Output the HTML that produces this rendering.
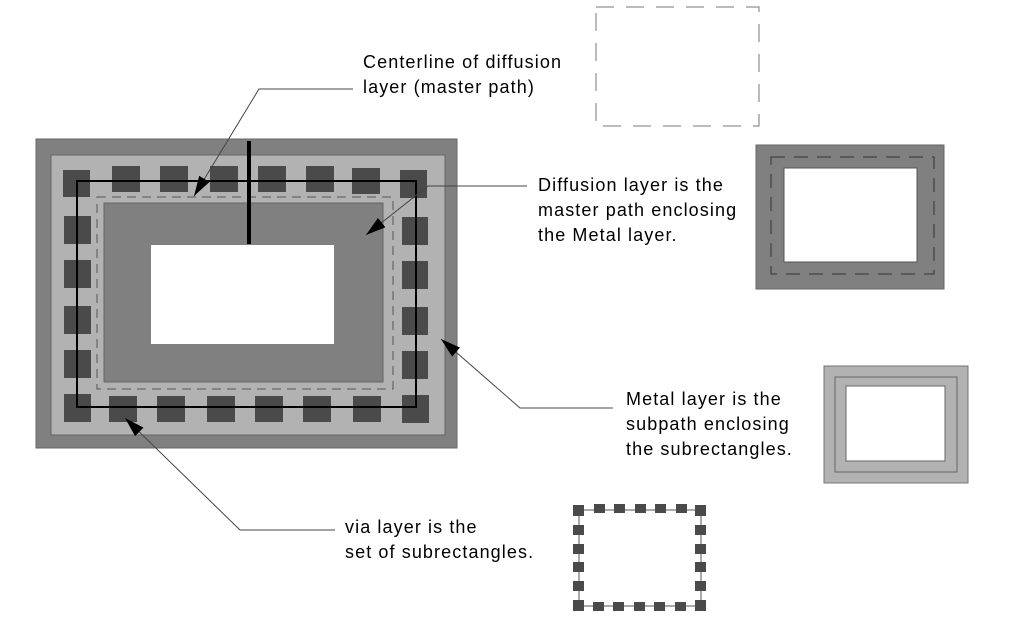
<!DOCTYPE html>
<html><head><meta charset="utf-8"><style>
html,body{margin:0;padding:0;background:#fff;width:1013px;height:640px;overflow:hidden}
text{font-family:"Liberation Sans",sans-serif;font-size:18px;letter-spacing:1.1px;fill:#000}
</style></head><body>
<svg width="1013" height="640" viewBox="0 0 1013 640" xmlns="http://www.w3.org/2000/svg">
<defs>
<marker id="ah" markerWidth="22" markerHeight="14" refX="20" refY="6" orient="auto" markerUnits="userSpaceOnUse"><path d="M0,0 L20,6 L0,12 Z" fill="#000"/></marker>
</defs>
<rect x="36" y="139" width="421" height="309" fill="#808080" stroke="#666" stroke-width="1"/>
<rect x="51" y="155" width="394" height="280" fill="#b2b2b2" stroke="#666" stroke-width="1"/>
<rect x="97" y="197" width="296" height="192" fill="none" stroke="#555" stroke-width="1" stroke-dasharray="9,6"/>
<rect x="104" y="203" width="279" height="179" fill="#808080" stroke="#666" stroke-width="1"/>
<rect x="151" y="245" width="183" height="99" fill="#fff"/>
<g fill="#4a4a4a">
<rect x="63" y="170" width="27" height="27"/><rect x="112" y="166" width="28" height="26"/><rect x="160" y="166" width="28" height="26"/><rect x="210" y="166" width="28" height="26"/><rect x="258" y="166" width="28" height="26"/><rect x="306" y="166" width="28" height="26"/><rect x="352" y="168" width="28" height="26"/><rect x="400" y="170" width="27" height="28"/>
<rect x="64" y="216" width="27" height="28"/><rect x="64" y="260" width="27" height="28"/><rect x="64" y="306" width="27" height="28"/><rect x="64" y="350" width="27" height="28"/>
<rect x="402" y="217" width="26" height="28"/><rect x="402" y="261" width="26" height="28"/><rect x="402" y="307" width="26" height="28"/><rect x="402" y="351" width="26" height="28"/>
<rect x="64" y="394" width="27" height="28"/><rect x="109" y="396" width="28" height="26"/><rect x="157" y="396" width="28" height="26"/><rect x="207" y="396" width="28" height="26"/><rect x="255" y="396" width="28" height="26"/><rect x="303" y="396" width="28" height="26"/><rect x="353" y="396" width="28" height="26"/><rect x="402" y="395" width="27" height="28"/>
</g>
<rect x="77" y="181" width="339" height="226" fill="none" stroke="#000" stroke-width="2"/>
<line x1="249" y1="141" x2="249" y2="244" stroke="#000" stroke-width="4"/>
<g stroke="#444" stroke-width="1" fill="none">
<polyline points="353,89 259,89 194,196" marker-end="url(#ah)"/>
<polyline points="527,186 428,186 366,235" marker-end="url(#ah)"/>
<polyline points="613,408 520,408 441,339" marker-end="url(#ah)"/>
<polyline points="335,530 240,530 125,418" marker-end="url(#ah)"/>
</g>
<text x="363" y="68">Centerline of diffusion</text>
<text x="363" y="93">layer (master path)</text>
<text x="538" y="191">Diffusion layer is the</text>
<text x="538" y="216">master path enclosing</text>
<text x="538" y="241">the Metal layer.</text>
<text x="626" y="405">Metal layer is the</text>
<text x="626" y="430">subpath enclosing</text>
<text x="626" y="455">the subrectangles.</text>
<text x="345" y="533">via layer is the</text>
<text x="345" y="558">set of subrectangles.</text>
<rect x="596" y="7" width="163" height="119" fill="none" stroke="#777" stroke-width="1" stroke-dasharray="18,12"/>
<rect x="756" y="145" width="188" height="144" fill="#808080" stroke="#666"/>
<rect x="771" y="157" width="163" height="117" fill="none" stroke="#333" stroke-dasharray="14,9"/>
<rect x="784" y="168" width="133" height="94" fill="#fff" stroke="#555"/>
<rect x="824" y="366" width="144" height="117" fill="#b2b2b2" stroke="#777"/>
<rect x="835" y="377" width="122" height="95" fill="none" stroke="#666"/>
<rect x="846" y="386" width="99" height="75" fill="#fff" stroke="#666"/>
<rect x="579" y="510" width="122" height="96" fill="none" stroke="#555"/>
<g fill="#4a4a4a">
<rect x="573" y="505" width="11" height="11"/><rect x="594" y="504" width="11" height="9"/><rect x="614" y="504" width="11" height="9"/><rect x="635" y="504" width="11" height="9"/><rect x="655" y="504" width="11" height="9"/><rect x="676" y="504" width="11" height="9"/><rect x="695" y="505" width="11" height="11"/>
<rect x="573" y="525" width="11" height="10"/><rect x="573" y="544" width="11" height="10"/><rect x="573" y="562" width="11" height="10"/><rect x="573" y="581" width="11" height="10"/>
<rect x="695" y="525" width="11" height="10"/><rect x="695" y="544" width="11" height="10"/><rect x="695" y="562" width="11" height="10"/><rect x="695" y="581" width="11" height="10"/>
<rect x="573" y="600" width="11" height="11"/><rect x="593" y="602" width="11" height="9"/><rect x="613" y="602" width="11" height="9"/><rect x="634" y="602" width="11" height="9"/><rect x="654" y="602" width="11" height="9"/><rect x="675" y="602" width="11" height="9"/><rect x="695" y="600" width="11" height="11"/>
</g>
</svg>
</body></html>
